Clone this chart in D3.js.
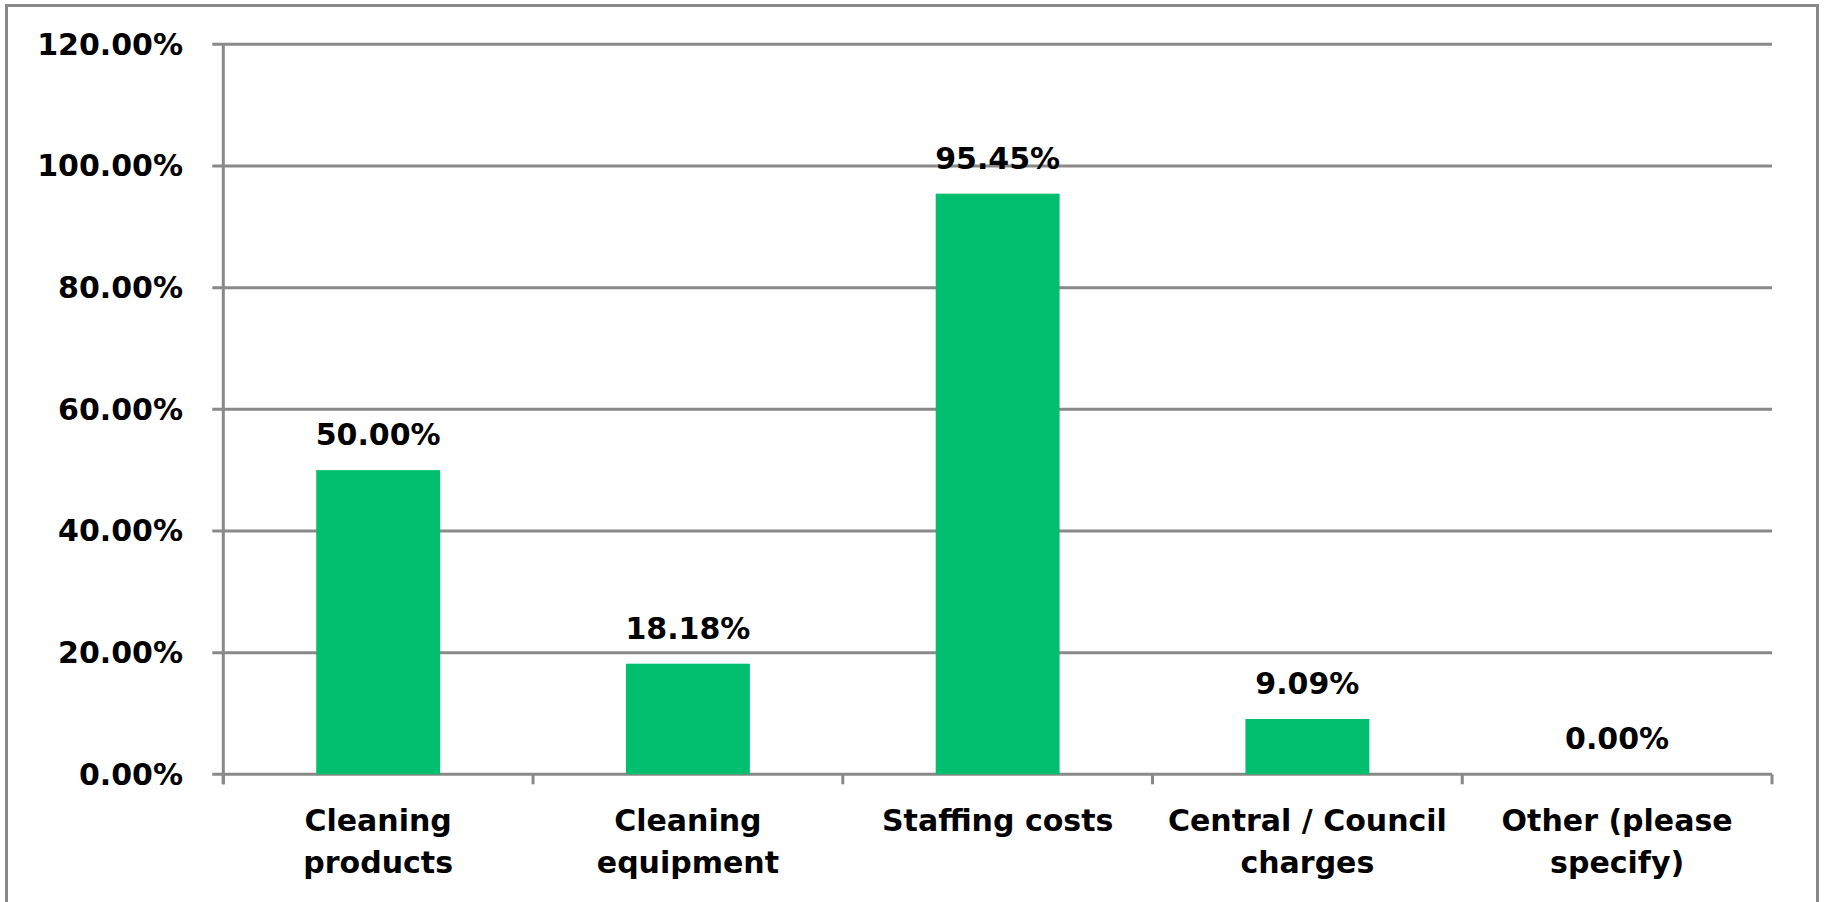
<!DOCTYPE html>
<html>
<head>
<meta charset="utf-8">
<script src="https://cdn.jsdelivr.net/npm/d3@7"></script>
<style>
  html, body { margin: 0; padding: 0; background: #fff; }
  svg { display: block; }
  text { font-family: "DejaVu Sans", sans-serif; font-weight: bold; fill: #000; }
</style>
</head>
<body>
<svg id="chart" width="1825" height="902"></svg>
<script>
const categories = ["Cleaning products", "Cleaning equipment", "Staffing costs", "Central / Council charges", "Other (please specify)"];
const categoryLines = [["Cleaning", "products"], ["Cleaning", "equipment"], ["Staffing costs"], ["Central / Council", "charges"], ["Other (please", "specify)"]];
const values = [50.00, 18.18, 95.45, 9.09, 0.00];
const valueLabels = ["50.00%", "18.18%", "95.45%", "9.09%", "0.00%"];
const yTicks = [0, 20, 40, 60, 80, 100, 120];
const yTickLabels = ["0.00%", "20.00%", "40.00%", "60.00%", "80.00%", "100.00%", "120.00%"];

(function () {
const svg = d3.select("#chart");
const gridColor = "#898989";
const barColor = "#02BF6F";

// outer border
svg.append("rect")
  .attr("x", 6.5).attr("y", 5.5)
  .attr("width", 1811).attr("height", 930)
  .attr("fill", "none").attr("stroke", gridColor).attr("stroke-width", 3);

const pLeft = 223.3, pRight = 1772, pTop = 44.3, pBottom = 774.3;

const x = d3.scaleBand()
  .domain(categories)
  .range([pLeft, pRight])
  .paddingInner(0.6)
  .paddingOuter(0.3);

const y = d3.scaleLinear().domain([0, 120]).range([pBottom, pTop]);

// gridlines + y tick marks
svg.append("g").selectAll("line").data(yTicks).join("line")
  .attr("x1", pLeft - 11).attr("x2", pRight)
  .attr("y1", d => y(d)).attr("y2", d => y(d))
  .attr("stroke", gridColor).attr("stroke-width", 3);

// y axis line
svg.append("line")
  .attr("x1", pLeft).attr("x2", pLeft)
  .attr("y1", y(120)).attr("y2", pBottom + 10)
  .attr("stroke", gridColor).attr("stroke-width", 3);

// x tick marks at category boundaries
const boundaries = d3.range(categories.length + 1).map(i => pLeft + i * (pRight - pLeft) / categories.length);
svg.append("g").selectAll("line").data(boundaries).join("line")
  .attr("x1", d => d).attr("x2", d => d)
  .attr("y1", pBottom).attr("y2", pBottom + 10)
  .attr("stroke", gridColor).attr("stroke-width", 3);

// y tick labels
svg.append("g").selectAll("text").data(yTicks).join("text")
  .attr("x", 183).attr("y", d => y(d) + 10.5)
  .attr("text-anchor", "end")
  .attr("font-size", 30)
  .text((d, i) => yTickLabels[i]);

// bars
svg.append("g").selectAll("rect").data(values).join("rect")
  .attr("x", (d, i) => x(categories[i]))
  .attr("width", x.bandwidth())
  .attr("y", d => y(d))
  .attr("height", d => pBottom - y(d))
  .attr("fill", barColor);

// value labels
svg.append("g").selectAll("text").data(values).join("text")
  .attr("x", (d, i) => x(categories[i]) + x.bandwidth() / 2)
  .attr("y", d => y(d) - 25)
  .attr("text-anchor", "middle")
  .attr("font-size", 30)
  .text((d, i) => valueLabels[i]);

// category labels
const catG = svg.append("g").selectAll("text").data(categories).join("text")
  .attr("text-anchor", "middle")
  .attr("font-size", 30);
catG.each(function (d, i) {
  const cx = x(d) + x.bandwidth() / 2;
  d3.select(this).selectAll("tspan").data(categoryLines[i]).join("tspan")
    .attr("x", cx)
    .attr("y", (l, j) => 831 + j * 42)
    .text(l => l);
});
})();
</script>
</body>
</html>
